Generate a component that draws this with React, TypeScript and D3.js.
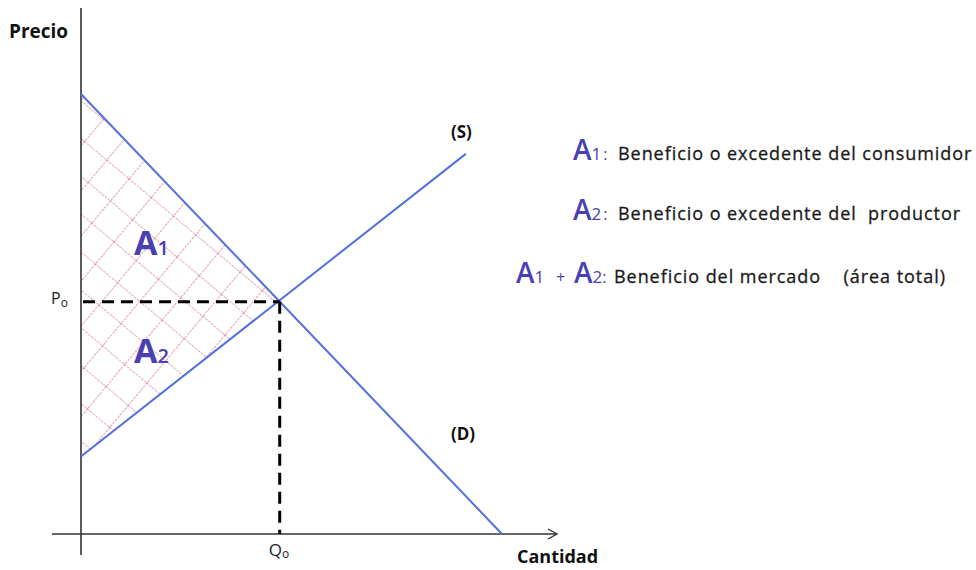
import React from "react";
import * as d3 from "d3";

// ---- data ----
const quantityDomain = [0, 10];
const priceDomain = [0, 10];
const demandQ = [0, 10];
const demandP = [10, 0];
const supplyQ = [0, 9.14];
const supplyP = [1.76, 8.64];
const equilibriumQ = [4.72];
const equilibriumP = [5.28];
const legendRows = [
  { a: ["A", "1"], plus: null, text: "Beneficio o excedente del consumidor" },
  { a: ["A", "2"], plus: null, text: "Beneficio o excedente del  productor" },
  { a: ["A", "1"], plus: ["A", "2"], text: "Beneficio del mercado    (área total)" },
];

const W = 976;
const H = 570;
const FONT = "'Open Sans', 'DejaVu Sans', sans-serif";
const BLUE = "#5470dc";
const LABEL_BLUE = "#4a3fb3";

export default function App() {
  const x = d3.scaleLinear().domain(quantityDomain).range([81, 502]);
  const y = d3.scaleLinear().domain(priceDomain).range([534, 94]);

  const line = d3
    .line<[number, number]>()
    .x((d) => x(d[0]))
    .y((d) => y(d[1]));

  const demand: [number, number][] = demandQ.map((q, i) => [q, demandP[i]]);
  const supply: [number, number][] = supplyQ.map((q, i) => [q, supplyP[i]]);
  const q0 = equilibriumQ[0];
  const p0 = equilibriumP[0];
  const area: [number, number][] = [
    [0, demandP[0]],
    [q0, p0],
    [0, supplyP[0]],
  ];

  const x0 = x(0);
  const yBase = y(0);

  const legendTextProps = {
    fontSize: 18,
    fill: "#1a1a1a",
    stroke: "#1a1a1a",
    strokeWidth: 0.3,
    letterSpacing: 0.95,
    style: { whiteSpace: "pre" as const },
  };

  return (
    <svg
      width={W}
      height={H}
      style={{ position: "absolute", left: 0, top: 0, background: "#fff" }}
      fontFamily={FONT}
    >
      <defs>
        <pattern
          id="hatch"
          width={29}
          height={29}
          patternUnits="userSpaceOnUse"
          patternTransform="translate(81,100) rotate(40)"
        >
          <line x1={0} y1={0} x2={29} y2={0} stroke="#cf4563" strokeWidth={1.1} strokeDasharray="2.5,1.2" />
          <line x1={0} y1={0} x2={0} y2={29} stroke="#cf4563" strokeWidth={1.1} strokeDasharray="2.5,1.2" />
        </pattern>
      </defs>

      {/* hatched surplus area */}
      <path d={line(area) + "Z"} fill="url(#hatch)" stroke="none" />

      {/* axes */}
      <line x1={x0} y1={8} x2={x0} y2={555} stroke="#333" strokeWidth={1.6} />
      <line x1={52} y1={yBase} x2={556} y2={yBase} stroke="#333" strokeWidth={1.6} />
      <path
        d={`M${548},${yBase - 5} L${557},${yBase} L${548},${yBase + 5}`}
        fill="none"
        stroke="#333"
        strokeWidth={1.4}
      />

      {/* curves */}
      <path d={line(demand) || ""} fill="none" stroke={BLUE} strokeWidth={2} />
      <path d={line(supply) || ""} fill="none" stroke={BLUE} strokeWidth={2} />

      {/* equilibrium dashed guides */}
      <line
        x1={x0 + 2}
        y1={y(p0)}
        x2={x(q0)}
        y2={y(p0)}
        stroke="#000"
        strokeWidth={3}
        strokeDasharray="12,7"
      />
      <line
        x1={x(q0)}
        y1={y(p0)}
        x2={x(q0)}
        y2={yBase}
        stroke="#000"
        strokeWidth={3}
        strokeDasharray="12,7"
      />

      {/* axis titles */}
      <text x={9} y={38} fontSize={19} fontWeight={700} fill="#111">
        Precio
      </text>
      <text x={517} y={563} fontSize={18} fontWeight={700} fill="#111">
        Cantidad
      </text>

      {/* P0 / Q0 */}
      <text x={51} y={304} fontSize={16} fill="#222">
        P<tspan fontSize={12} dy={3}>o</tspan>
      </text>
      <text x={x(q0) - 11} y={556} fontSize={17} fill="#222">
        Q<tspan fontSize={12} dy={2}>o</tspan>
      </text>

      {/* curve labels */}
      <text x={451} y={138} fontSize={17} fontWeight={700} fill="#111">
        (S)
      </text>
      <text x={451} y={440} fontSize={17} fontWeight={700} fill="#111">
        (D)
      </text>

      {/* area labels */}
      <text x={134} y={255} fontSize={34} fontWeight={700} fill={LABEL_BLUE}>
        A<tspan fontSize={20} fontWeight={600}>1</tspan>
      </text>
      <text x={134} y={363} fontSize={34} fontWeight={700} fill={LABEL_BLUE}>
        A<tspan fontSize={20} fontWeight={600}>2</tspan>
      </text>

      {/* legend */}
      {legendRows.map((r, i) => {
        const baselines = [160, 220, 283];
        const by = baselines[i];
        if (!r.plus) {
          return (
            <g key={i}>
              <text x={573} y={by} fontSize={28} fontWeight={600} fill={LABEL_BLUE}>
                {r.a[0]}
                <tspan fontSize={17} fontWeight={400}>{r.a[1]}</tspan>
                <tspan fontSize={16} fontWeight={400} dx={2}>:</tspan>
              </text>
              <text x={618} y={by} {...legendTextProps}>
                {r.text}
              </text>
            </g>
          );
        }
        return (
          <g key={i}>
            <text x={516} y={by} fontSize={28} fontWeight={600} fill={LABEL_BLUE}>
              {r.a[0]}
              <tspan fontSize={17} fontWeight={400}>{r.a[1]}</tspan>
            </text>
            <text x={556} y={by} fontSize={16} fill={LABEL_BLUE}>
              +
            </text>
            <text x={574} y={by} fontSize={28} fontWeight={600} fill={LABEL_BLUE}>
              {r.plus[0]}
              <tspan fontSize={17} fontWeight={400}>{r.plus[1]}</tspan>
              <tspan fontSize={16} fontWeight={400}>:</tspan>
            </text>
            <text x={614} y={by} {...legendTextProps}>
              {r.text}
            </text>
          </g>
        );
      })}
    </svg>
  );
}
